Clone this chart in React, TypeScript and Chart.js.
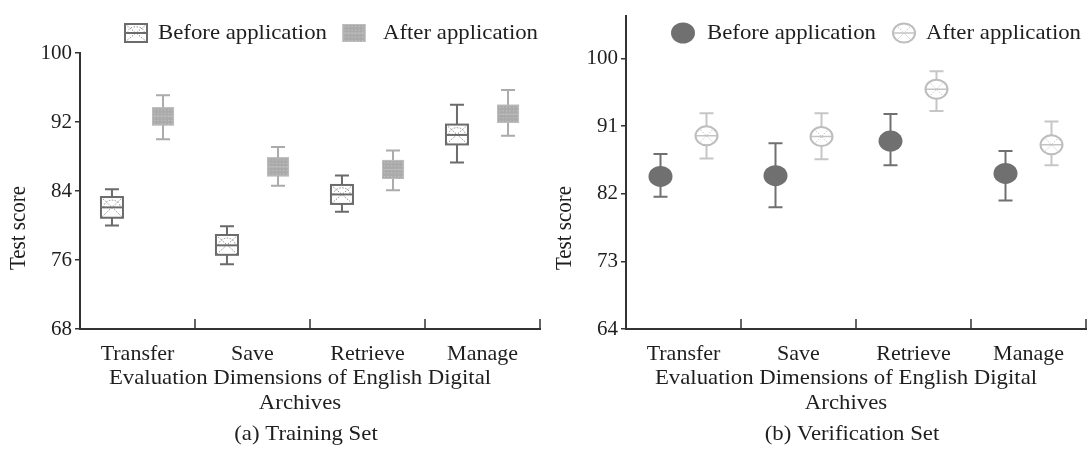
import { useEffect, useRef } from 'react';
import { Chart, registerables } from 'chart.js';

Chart.register(...registerables);

// ---------- data ----------
const categories = ['Transfer', 'Save', 'Retrieve', 'Manage'];
const seriesNames = ['Before application', 'After application'];

// (a) Training set: box plots
const trainBeforeLow = [80.0, 75.5, 81.6, 87.3];
const trainBeforeQ1 = [80.9, 76.6, 82.5, 89.4];
const trainBeforeMedian = [82.1, 77.7, 83.6, 90.5];
const trainBeforeQ3 = [83.3, 78.9, 84.7, 91.7];
const trainBeforeHigh = [84.2, 79.9, 85.8, 94.0];
const trainAfterLow = [90.0, 84.6, 84.1, 90.4];
const trainAfterQ1 = [91.6, 85.7, 85.4, 91.9];
const trainAfterMedian = [92.7, 86.8, 86.5, 92.9];
const trainAfterQ3 = [93.7, 87.9, 87.6, 94.0];
const trainAfterHigh = [95.1, 89.1, 88.7, 95.7];
const trainYTicks = [68, 76, 84, 92, 100];

// (b) Verification set: mean with error bars
const verifBeforeMean = [84.3, 84.4, 89.0, 84.7];
const verifBeforeLow = [81.6, 80.2, 85.8, 81.1];
const verifBeforeHigh = [87.3, 88.7, 92.6, 87.7];
const verifAfterMean = [89.7, 89.6, 95.9, 88.5];
const verifAfterLow = [86.7, 86.6, 93.0, 85.8];
const verifAfterHigh = [92.7, 92.7, 98.3, 91.6];
const verifYTicks = [64, 73, 82, 91, 100];

const yTitle = 'Test score';
const xTitleLines = ['Evaluation Dimensions of English Digital', 'Archives'];
const captions = ['(a) Training Set', '(b) Verification Set'];

// ---------- styling ----------
const FONT = '"Liberation Serif", "Times New Roman", serif';
const AXIS = '#333333';
const TEXT = '#1e1e1e';
const DARK = '#6b6b6b';
const LIGHT_BOX = '#aaaaaa';
const LIGHT_WHISK = '#ababab';
const PALE = '#c6c6c6';
const STRETCH = 1.085;

function whisker(ctx: CanvasRenderingContext2D, cx: number, yHi: number, yLo: number, color: string, cap = 14) {
  ctx.save();
  ctx.strokeStyle = color;
  ctx.lineWidth = 2;
  ctx.beginPath();
  ctx.moveTo(cx, yHi);
  ctx.lineTo(cx, yLo);
  ctx.moveTo(cx - cap / 2, yHi);
  ctx.lineTo(cx + cap / 2, yHi);
  ctx.moveTo(cx - cap / 2, yLo);
  ctx.lineTo(cx + cap / 2, yLo);
  ctx.stroke();
  ctx.restore();
}

function beforeBox(ctx: CanvasRenderingContext2D, cx: number, yTop: number, yBot: number, yMed: number, w: number) {
  const x0 = cx - w / 2;
  ctx.save();
  ctx.fillStyle = '#ffffff';
  ctx.fillRect(x0, yTop, w, yBot - yTop);
  ctx.beginPath();
  ctx.rect(x0, yTop, w, yBot - yTop);
  ctx.clip();
  ctx.strokeStyle = '#8c8c8c';
  ctx.lineWidth = 1;
  ctx.setLineDash([1.5, 1.5]);
  ctx.beginPath();
  ctx.moveTo(x0, yTop);
  ctx.lineTo(x0 + w, yBot);
  ctx.moveTo(x0 + w, yTop);
  ctx.lineTo(x0, yBot);
  ctx.stroke();
  ctx.beginPath();
  ctx.ellipse(cx, yMed, w * 0.38, (yMed - yTop) * 0.7, 0, Math.PI, 2 * Math.PI);
  ctx.stroke();
  ctx.restore();
  ctx.save();
  ctx.strokeStyle = DARK;
  ctx.lineWidth = 2;
  ctx.strokeRect(x0, yTop, w, yBot - yTop);
  ctx.beginPath();
  ctx.moveTo(x0, yMed);
  ctx.lineTo(x0 + w, yMed);
  ctx.stroke();
  ctx.restore();
}

function afterBox(ctx: CanvasRenderingContext2D, cx: number, yTop: number, yBot: number, yMed: number, w: number) {
  const x0 = cx - w / 2;
  ctx.save();
  ctx.fillStyle = LIGHT_BOX;
  ctx.fillRect(x0, yTop, w, yBot - yTop);
  ctx.fillStyle = '#c2c2c2';
  for (let yy = yTop + 2; yy < yBot - 1; yy += 3.5) {
    for (let xx = x0 + 2; xx < x0 + w - 1; xx += 3.5) {
      ctx.fillRect(xx, yy, 1.2, 1.2);
    }
  }
  ctx.strokeStyle = '#bdbdbd';
  ctx.lineWidth = 1;
  ctx.strokeRect(x0 + 0.5, yTop + 0.5, w - 1, yBot - yTop - 1);
  ctx.beginPath();
  ctx.moveTo(x0, yMed);
  ctx.lineTo(x0 + w, yMed);
  ctx.stroke();
  ctx.restore();
}

function beforeDot(ctx: CanvasRenderingContext2D, cx: number, cy: number) {
  ctx.save();
  ctx.fillStyle = '#707070';
  ctx.beginPath();
  ctx.ellipse(cx, cy, 12, 10.5, 0, 0, Math.PI * 2);
  ctx.fill();
  ctx.restore();
}

function afterDot(ctx: CanvasRenderingContext2D, cx: number, cy: number) {
  ctx.save();
  ctx.fillStyle = '#ffffff';
  ctx.beginPath();
  ctx.ellipse(cx, cy, 11, 9.5, 0, 0, Math.PI * 2);
  ctx.fill();
  ctx.clip();
  ctx.strokeStyle = '#c4c4c4';
  ctx.lineWidth = 1;
  ctx.setLineDash([1.5, 1.5]);
  ctx.beginPath();
  ctx.moveTo(cx - 8, cy - 8);
  ctx.lineTo(cx + 8, cy + 8);
  ctx.moveTo(cx + 8, cy - 8);
  ctx.lineTo(cx - 8, cy + 8);
  ctx.stroke();
  ctx.setLineDash([]);
  ctx.lineWidth = 1.5;
  ctx.beginPath();
  ctx.moveTo(cx - 11, cy);
  ctx.lineTo(cx + 11, cy);
  ctx.stroke();
  ctx.restore();
  ctx.save();
  ctx.strokeStyle = '#bdbdbd';
  ctx.lineWidth = 2;
  ctx.beginPath();
  ctx.ellipse(cx, cy, 11, 9.5, 0, 0, Math.PI * 2);
  ctx.stroke();
  ctx.restore();
}

function text(ctx: CanvasRenderingContext2D, s: string, x: number, y: number, size: number, align: CanvasTextAlign = 'center') {
  ctx.save();
  ctx.fillStyle = TEXT;
  ctx.font = `${size}px ${FONT}`;
  ctx.textAlign = align;
  ctx.textBaseline = 'middle';
  ctx.translate(x, y);
  ctx.scale(STRETCH, 1);
  ctx.fillText(s, 0, 0);
  ctx.restore();
}

function decorations(chart: any, caption: string) {
  const { ctx, chartArea, scales } = chart;
  const x = scales.x;
  const catW = x.width / categories.length;
  // inner x tick marks at category boundaries
  ctx.save();
  ctx.strokeStyle = AXIS;
  ctx.lineWidth = 1.5;
  ctx.beginPath();
  categories.forEach((_: string, i: number) => {
    const bx = x.getPixelForValue(i) + catW / 2;
    ctx.moveTo(bx, chartArea.bottom);
    ctx.lineTo(bx, chartArea.bottom - 10);
  });
  ctx.stroke();
  ctx.restore();
  // y title
  ctx.save();
  ctx.translate(chartArea.left - 61, 228);
  ctx.rotate(-Math.PI / 2);
  ctx.fillStyle = TEXT;
  ctx.font = `21px ${FONT}`;
  ctx.textAlign = 'center';
  ctx.textBaseline = 'middle';
  ctx.scale(1, STRETCH);
  ctx.fillText(yTitle, 0, 0);
  ctx.restore();
  // x title + caption
  const cx = (chartArea.left + chartArea.right) / 2 - 10;
  text(ctx, xTitleLines[0], cx, 378, 21);
  text(ctx, xTitleLines[1], cx, 403, 21);
  text(ctx, caption, cx + 6, 434, 21);
}

const commonScales = (yMin: number, yMax: number, ticks: number[], yWidth: number) => ({
  x: {
    type: 'category' as const,
    offset: true,
    grid: { drawOnChartArea: false, drawTicks: false },
    border: { display: true, color: AXIS, width: 2 },
    ticks: { font: { family: FONT, size: 22 }, color: TEXT, padding: 12, maxRotation: 0, autoSkip: false },
    afterFit: (s: any) => { s.height = 125; },
  },
  y: {
    type: 'linear' as const,
    min: yMin,
    max: yMax,
    afterBuildTicks: (s: any) => { s.ticks = ticks.map((v) => ({ value: v })); },
    grid: { drawOnChartArea: false, drawTicks: true, tickLength: 5, color: AXIS, lineWidth: 1.5 },
    border: { display: true, color: AXIS, width: 2 },
    ticks: { font: { family: FONT, size: 21 }, color: TEXT, padding: 3 },
    afterFit: (s: any) => { s.width = yWidth; },
  },
});

function trainConfig(): any {
  const plugin = {
    id: 'trainMarks',
    afterDatasetsDraw(chart: any) {
      const { ctx, scales: { x, y } } = chart;
      const catW = x.width / categories.length;
      const off = catW * 0.222;
      categories.forEach((_, i) => {
        const c = x.getPixelForValue(i);
        whisker(ctx, c - off, y.getPixelForValue(trainBeforeHigh[i]), y.getPixelForValue(trainBeforeLow[i]), DARK);
        beforeBox(ctx, c - off, y.getPixelForValue(trainBeforeQ3[i]), y.getPixelForValue(trainBeforeQ1[i]), y.getPixelForValue(trainBeforeMedian[i]), 22);
        whisker(ctx, c + off, y.getPixelForValue(trainAfterHigh[i]), y.getPixelForValue(trainAfterLow[i]), LIGHT_WHISK);
        afterBox(ctx, c + off, y.getPixelForValue(trainAfterQ3[i]), y.getPixelForValue(trainAfterQ1[i]), y.getPixelForValue(trainAfterMedian[i]), 22);
      });
    },
    afterDraw(chart: any) {
      const { ctx } = chart;
      decorations(chart, captions[0]);
      // legend
      beforeBox(ctx, 136, 24, 42, 33, 22);
      text(ctx, seriesNames[0], 158, 33, 21, 'left');
      afterBox(ctx, 354, 24, 42, 33, 23);
      text(ctx, seriesNames[1], 383, 33, 21, 'left');
    },
  };
  return {
    type: 'line',
    data: {
      labels: categories,
      datasets: [
        { label: seriesNames[0], data: trainBeforeMedian, showLine: false, pointRadius: 0 },
        { label: seriesNames[1], data: trainAfterMedian, showLine: false, pointRadius: 0 },
      ],
    },
    options: {
      responsive: false,
      animation: false,
      events: [],
      layout: { padding: { top: 53, right: 5, left: 0, bottom: 0 } },
      plugins: { legend: { display: false }, tooltip: { enabled: false } },
      scales: commonScales(68, 100, trainYTicks, 80),
    },
    plugins: [plugin],
  };
}

function verifConfig(): any {
  const plugin = {
    id: 'verifMarks',
    afterDatasetsDraw(chart: any) {
      const { ctx, scales: { x, y } } = chart;
      const catW = x.width / categories.length;
      const off = catW * 0.2;
      categories.forEach((_, i) => {
        const c = x.getPixelForValue(i);
        whisker(ctx, c - off, y.getPixelForValue(verifBeforeHigh[i]), y.getPixelForValue(verifBeforeLow[i]), '#707070');
        beforeDot(ctx, c - off, y.getPixelForValue(verifBeforeMean[i]));
        whisker(ctx, c + off, y.getPixelForValue(verifAfterHigh[i]), y.getPixelForValue(verifAfterLow[i]), PALE);
        afterDot(ctx, c + off, y.getPixelForValue(verifAfterMean[i]));
      });
    },
    afterDraw(chart: any) {
      const { ctx } = chart;
      decorations(chart, captions[1]);
      beforeDot(ctx, 138, 33);
      text(ctx, seriesNames[0], 162, 33, 21, 'left');
      afterDot(ctx, 359, 33);
      text(ctx, seriesNames[1], 381, 33, 21, 'left');
    },
  };
  return {
    type: 'line',
    data: {
      labels: categories,
      datasets: [
        { label: seriesNames[0], data: verifBeforeMean, showLine: false, pointRadius: 0 },
        { label: seriesNames[1], data: verifAfterMean, showLine: false, pointRadius: 0 },
      ],
    },
    options: {
      responsive: false,
      animation: false,
      events: [],
      layout: { padding: { top: 8, right: 4, left: 0, bottom: 0 } },
      plugins: { legend: { display: false }, tooltip: { enabled: false } },
      scales: commonScales(64, 105.7, verifYTicks, 81),
    },
    plugins: [plugin],
  };
}

export default function App() {
  const leftRef = useRef<HTMLCanvasElement>(null);
  const rightRef = useRef<HTMLCanvasElement>(null);
  useEffect(() => {
    const c1 = new Chart(leftRef.current as HTMLCanvasElement, trainConfig());
    const c2 = new Chart(rightRef.current as HTMLCanvasElement, verifConfig());
    return () => {
      c1.destroy();
      c2.destroy();
    };
  }, []);
  return (
    <div style={{ position: 'absolute', left: 0, top: 0, width: 1090, height: 454, background: '#ffffff' }}>
      <canvas ref={leftRef} width={545} height={454} style={{ position: 'absolute', left: 0, top: 0, width: 545, height: 454 }} />
      <canvas ref={rightRef} width={545} height={454} style={{ position: 'absolute', left: 545, top: 0, width: 545, height: 454 }} />
    </div>
  );
}
